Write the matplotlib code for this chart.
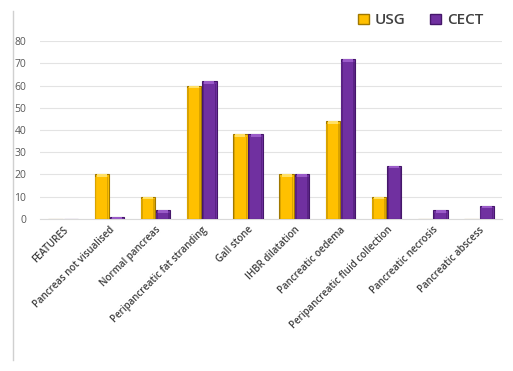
import matplotlib.pyplot as plt
import numpy as np
from matplotlib.lines import Line2D
from matplotlib.patches import Patch

# ---------- data ----------
categories = ["FEATURES", "Pancreas not visualised", "Normal pancreas",
              "Peripancreatic fat stranding", "Gall stone", "IHBR dilatation",
              "Pancreatic oedema", "Peripancreatic fluid collection",
              "Pancreatic necrosis", "Pancreatic abscess"]
usg = [0, 20, 10, 60, 38, 20, 44, 10, 0, 0]
cect = [0, 1, 4, 62, 38, 20, 72, 24, 4, 6]
series_names = ["USG", "CECT"]

USG_FACE, USG_EDGE = "#FFC000", "#A07800"
CECT_FACE, CECT_EDGE = "#7030A0", "#45176A"

plt.rcParams["font.family"] = ["Open Sans", "DejaVu Sans"]

fig = plt.figure(figsize=(5.13, 3.71), dpi=100)
ax = fig.add_axes([0.078, 0.410, 0.901, 0.479])

x = np.arange(len(categories))
w = 0.31
b1 = ax.bar(x - w / 2 - 0.01, usg, w, color=USG_FACE, edgecolor=USG_EDGE,
            linewidth=0.8, zorder=3)
b2 = ax.bar(x + w / 2 + 0.01, cect, w, color=CECT_FACE, edgecolor=CECT_EDGE,
            linewidth=0.8, zorder=3)

# bevel: light top cap and darker side strips
for bars, hi, dark in ((b1, "#FFE066", "#D9A300"), (b2, "#9A5BC8", "#5A2385")):
    for r in bars:
        h = r.get_height()
        if h <= 0:
            continue
        cx = r.get_x() + r.get_width() / 2
        cap = min(1.2, h)
        for fx in (0.08, 0.92):
            ax.bar(r.get_x() + r.get_width() * fx, h - cap, r.get_width() * 0.1,
                   color=dark, linewidth=0, zorder=4, align="center")
        ax.bar(cx, cap, r.get_width() * 0.7, bottom=h - cap,
               color=hi, linewidth=0, zorder=4)

ax.set_xlim(-0.5, len(categories) - 0.5)
ax.set_ylim(0, 80)
ax.set_yticks(range(0, 81, 10))
ax.yaxis.grid(True, color="#E3E3E3", linewidth=0.8, zorder=0)
ax.set_axisbelow(True)
for s in ["top", "right", "left"]:
    ax.spines[s].set_visible(False)
ax.spines["bottom"].set_color("#D9D9D9")
ax.tick_params(axis="both", length=0, pad=4)
ax.tick_params(axis="y", labelsize=7.5, labelcolor="#595959", pad=10)
ax.set_xticks(x)
ax.set_xticklabels(categories, rotation=45, ha="right", rotation_mode="anchor",
                   fontsize=7, color="#404040", fontweight="semibold")

handles = [Patch(facecolor=USG_FACE, edgecolor=USG_EDGE),
           Patch(facecolor=CECT_FACE, edgecolor=CECT_EDGE)]
fig.legend(handles, series_names, loc="center", bbox_to_anchor=(0.82, 0.945),
           ncol=2, frameon=False, handlelength=0.7, handleheight=0.7,
           columnspacing=1.6, handletextpad=0.4, labelcolor="#404040",
           prop={"weight": "semibold", "size": 11})

# faint left border of the original chart box
fig.add_artist(Line2D([0.025, 0.025], [0.03, 0.97], color="#D0D0D0",
                      linewidth=1, transform=fig.transFigure))

fig.savefig("out.png", dpi=100)
